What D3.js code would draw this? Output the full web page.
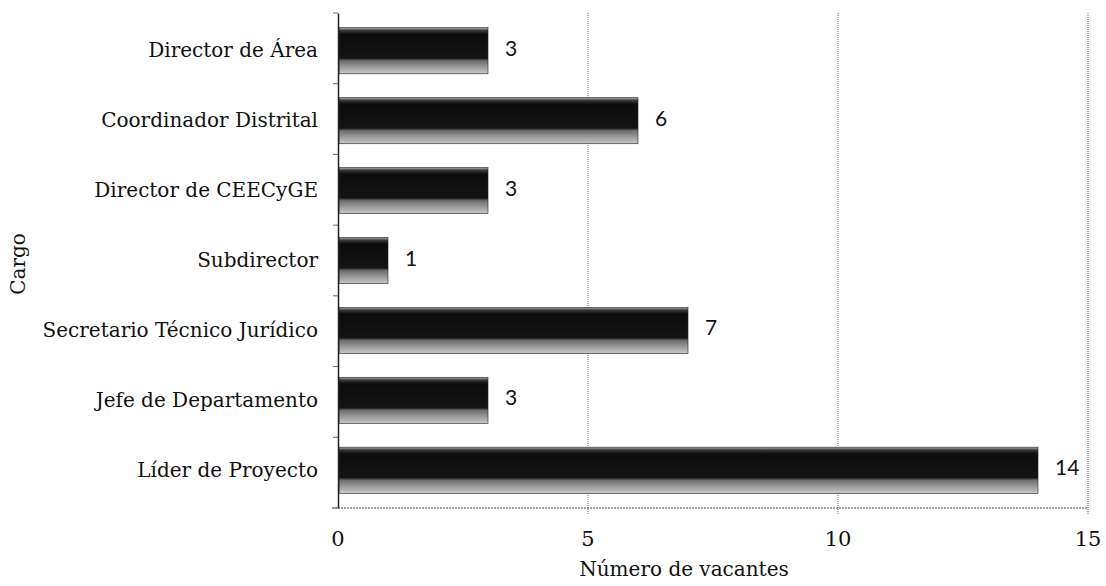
<!DOCTYPE html>
<html lang="es">
<head>
<meta charset="utf-8">
<title>Vacantes por cargo</title>
<script src="https://cdn.jsdelivr.net/npm/d3@7"></script>
<style>
  body { margin: 0; background: #fff; }
  .cat { font-family: "DejaVu Serif", serif; font-size: 20px; fill: #111; }
  .val { font-family: "Lato", "Liberation Sans", sans-serif; font-size: 21px; fill: #111; }
</style>
</head>
<body>
<script>
var cargos = ["Director de Área", "Coordinador Distrital", "Director de CEECyGE", "Subdirector",
              "Secretario Técnico Jurídico", "Jefe de Departamento", "Líder de Proyecto"];
var vacantes = [3, 6, 3, 1, 7, 3, 14];
var ticksX = [0, 5, 10, 15];

var W = 1106, H = 586;
var mLeft = 338, mRight = 1088, mTop = 13, mBottom = 508;

var svg = d3.select("body").append("svg").attr("width", W).attr("height", H);

var x = d3.scaleLinear().domain([0, 15]).range([mLeft, mRight]);
var y = d3.scaleBand().domain(cargos).range([mTop, mBottom]).paddingInner(0.34).paddingOuter(0.21);

// bar look: dark body, gray lower rim
var defs = svg.append("defs");
var g = defs.append("linearGradient").attr("id", "barfill").attr("x1", 0).attr("y1", 0).attr("x2", 0).attr("y2", 1);
g.append("stop").attr("offset", "0%").attr("stop-color", "#b5b5b5");
g.append("stop").attr("offset", "6%").attr("stop-color", "#3a3a3a");
g.append("stop").attr("offset", "14%").attr("stop-color", "#0c0c0c");
g.append("stop").attr("offset", "66%").attr("stop-color", "#141414");
g.append("stop").attr("offset", "72%").attr("stop-color", "#6e6e6e");
g.append("stop").attr("offset", "86%").attr("stop-color", "#9c9c9c");
g.append("stop").attr("offset", "100%").attr("stop-color", "#c8c8c8");

// grid lines
svg.append("g").selectAll("line").data(ticksX.slice(1)).enter().append("line")
  .attr("x1", function(d){ return x(d); }).attr("x2", function(d){ return x(d); })
  .attr("y1", mTop).attr("y2", mBottom + 6)
  .attr("stroke", "#666").attr("stroke-width", 1).attr("stroke-dasharray", "1,1");

// x axis line
svg.append("line").attr("x1", mLeft - 6).attr("x2", mRight).attr("y1", mBottom).attr("y2", mBottom)
  .attr("stroke", "#444").attr("stroke-width", 1).attr("stroke-dasharray", "2,1");

// bars
svg.append("g").selectAll("rect").data(cargos).enter().append("rect")
  .attr("x", x(0) + 1)
  .attr("y", function(d){ return y(d); })
  .attr("width", function(d, i){ return x(vacantes[i]) - x(0) - 1; })
  .attr("height", y.bandwidth())
  .attr("fill", "url(#barfill)")
  .attr("stroke", "#222").attr("stroke-width", 0.6);

// value labels
svg.append("g").selectAll("text").data(cargos).enter().append("text")
  .attr("class", "val")
  .attr("x", function(d, i){ return x(vacantes[i]) + 17; })
  .attr("y", function(d){ return y(d) + y.bandwidth() * 0.45; })
  .attr("dy", "0.35em")
  .text(function(d, i){ return vacantes[i]; });

// y axis
var yAxis = d3.axisLeft(y).tickSize(0).tickPadding(20);
var ya = svg.append("g").attr("transform", "translate(" + mLeft + ",0)").call(yAxis);
ya.attr("font-family", null).attr("font-size", null);
ya.select(".domain").attr("stroke", "#222").attr("stroke-width", 1.5);
ya.selectAll("text").attr("class", "cat").attr("dy", "0.32em");

// small ticks between categories
var bounds = d3.range(cargos.length + 1).map(function(i){ return mTop + i * (mBottom - mTop) / cargos.length; });
svg.append("g").selectAll("line").data(bounds).enter().append("line")
  .attr("x1", mLeft - 5).attr("x2", mLeft).attr("y1", function(d){ return d; }).attr("y2", function(d){ return d; })
  .attr("stroke", "#666");

// x tick labels
svg.append("g").selectAll("text").data(ticksX).enter().append("text")
  .attr("class", "cat").style("font-size", "21px")
  .attr("x", function(d){ return x(d); }).attr("y", 546)
  .attr("text-anchor", "middle")
  .text(function(d){ return d; });

svg.append("text").attr("class", "cat").attr("x", 684).attr("y", 576)
  .attr("text-anchor", "middle").text("Número de vacantes");

svg.append("text").attr("class", "cat")
  .attr("transform", "translate(25,264) rotate(-90)")
  .attr("text-anchor", "middle").text("Cargo");
</script>
</body>
</html>
